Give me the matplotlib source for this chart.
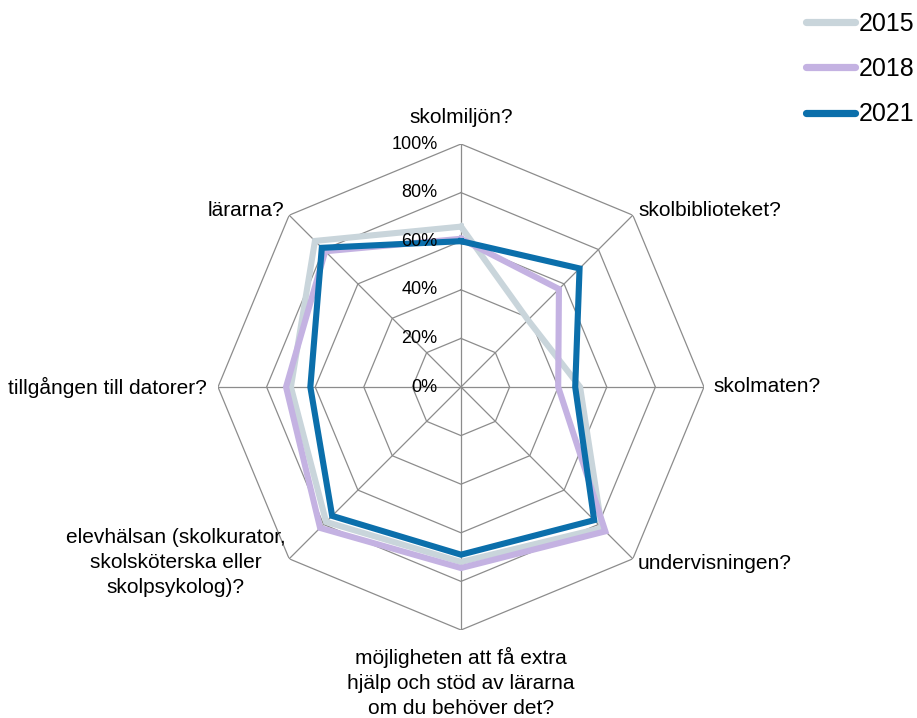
import numpy as np
import matplotlib
matplotlib.use("Agg")
import matplotlib.pyplot as plt
from matplotlib.lines import Line2D

plt.rcParams['font.family'] = ['Liberation Sans', 'DejaVu Sans']

categories = [
    "skolmiljön?",
    "skolbiblioteket?",
    "skolmaten?",
    "undervisningen?",
    "möjligheten att få extra\nhjälp och stöd av lärarna\nom du behöver det?",
    "elevhälsan (skolkurator,\nskolsköterska eller\nskolpsykolog)?",
    "tillgången till datorer?",
    "lärarna?",
]
series_names = ["2015", "2018", "2021"]
values_2015 = [0.66, 0.39, 0.49, 0.82, 0.72, 0.785, 0.70, 0.85]
values_2018 = [0.61, 0.57, 0.40, 0.84, 0.745, 0.82, 0.72, 0.79]
values_2021 = [0.60, 0.69, 0.47, 0.775, 0.69, 0.75, 0.62, 0.81]
tick_values = [0.0, 0.2, 0.4, 0.6, 0.8, 1.0]
tick_labels = ["0%", "20%", "40%", "60%", "80%", "100%"]

colors = ["#C9D5DB", "#C4B2E2", "#0B6FAB"]

W, H = 917, 718
fig = plt.figure(figsize=(W / 100, H / 100), dpi=100)
cx, cy, R = 461, 387, 243
ax = fig.add_axes([(cx - R) / W, (H - cy - R) / H, 2 * R / W, 2 * R / H], projection='polar')
ax.set_theta_zero_location('N')
ax.set_theta_direction(-1)
ax.set_ylim(0, 1)
ax.grid(False)
ax.spines['polar'].set_visible(False)
ax.set_xticks([])
ax.set_yticks([])
ax.patch.set_alpha(0)

n = len(categories)
theta = np.arange(n) * 2 * np.pi / n
theta_closed = np.append(theta, theta[0])

grid_col = "#8C8C8C"
for r in tick_values[1:]:
    ax.plot(theta_closed, [r] * (n + 1), color=grid_col, lw=0.9, zorder=1)
for t in theta:
    ax.plot([t, t], [0, 1], color=grid_col, lw=0.9, zorder=1)

for name, vals, c in zip(series_names, [values_2015, values_2018, values_2021], colors):
    v = np.append(vals, vals[0])
    ax.plot(theta_closed, v, color=c, lw=4.4, solid_joinstyle='miter', zorder=3, label=name)

for r, lab in zip(tick_values, tick_labels):
    ax.annotate(lab, xy=(0, r), xytext=(-17, 0), textcoords='offset points',
                ha='right', va='center', fontsize=13, color='#000000', zorder=4)

fs = 15
label_specs = [
    (1.11, 'center', 'center'),
    (1.03, 'left', 'center'),
    (1.04, 'left', 'center'),
    (1.03, 'left', 'center'),
    (1.07, 'center', 'top'),
    (1.02, 'right', 'center'),
    (1.045, 'right', 'center'),
    (1.03, 'right', 'center'),
]
for t, lab, (r, ha, va) in zip(theta, categories, label_specs):
    ax.text(t, r, lab, ha=ha, va=va, multialignment='center', fontsize=fs,
            color='#000000', linespacing=1.4, clip_on=False)

handles = [Line2D([0], [0], color=c, lw=5.2, solid_capstyle='round') for c in colors]
fig.legend(handles, series_names, loc='upper right', bbox_to_anchor=(1.0, 0.987),
           frameon=False, fontsize=18, handlelength=1.95, handletextpad=0.15,
           labelspacing=0.85, borderaxespad=0.0, borderpad=0.1)

fig.savefig("out.png", dpi=100)
